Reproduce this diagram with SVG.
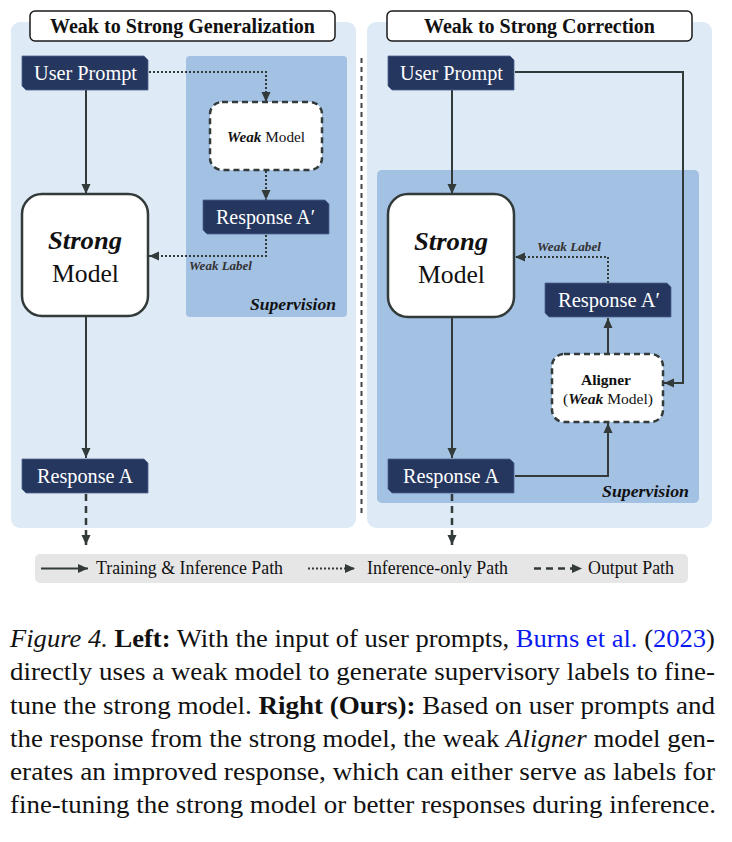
<svg xmlns="http://www.w3.org/2000/svg" width="732" height="842" viewBox="0 0 732 842" font-family="'Liberation Serif', 'Times New Roman', serif">
<style>
  text, tspan { font-family: 'Liberation Serif', 'Times New Roman', serif; }
  .panel { fill: #deeaf5; }
  .sup { fill: #a3c1e3; }
  .title { fill: #ffffff; stroke: #1a1a1a; stroke-width: 1.5; }
  .titletxt { font-size: 20px; font-weight: bold; fill: #111; text-anchor: middle; }
  .tag { fill: #26375f; stroke: #4c6391; stroke-width: 0.8; }
  .tagtxt { font-size: 20px; fill: #ffffff; text-anchor: middle; }
  .strong { fill: #ffffff; stroke: #333a3a; stroke-width: 2.5; }
  .weak { fill: #ffffff; stroke: #333a3a; stroke-width: 2.5; stroke-dasharray: 6 4; }
  .bigtxt { font-size: 26px; fill: #111; text-anchor: middle; }
  .smtxt { font-size: 15.5px; fill: #111; text-anchor: middle; }
  .bi { font-weight: bold; font-style: italic; }
  .b { font-weight: bold; }
  .i { font-style: italic; }
  .supTxt { font-size: 17.5px; font-weight: bold; font-style: italic; fill: #111; text-anchor: end; }
  .wl { font-size: 12.8px; font-weight: bold; font-style: italic; fill: #333; }
  .solid { fill: none; stroke: #333a3a; stroke-width: 2; }
  .dot { fill: none; stroke: #333a3a; stroke-width: 2; stroke-dasharray: 2 2; }
  .dash { fill: none; stroke: #333a3a; stroke-width: 2.5; stroke-dasharray: 7 5; }
  .legtxt { font-size: 17.8px; fill: #111; }
  .cap { font-size: 26px; fill: #111; }
  .link { fill: #0a1af0; }
</style>
<defs>
  <marker id="ah" viewBox="0 0 10 10" refX="10" refY="5" markerWidth="10" markerHeight="10" markerUnits="userSpaceOnUse" orient="auto">
    <path d="M0,0.5 L10,5 L0,9.5 z" fill="#333a3a"/>
  </marker>
</defs>

<g id="panels">
  <rect class="panel" x="11" y="22" width="345" height="506" rx="9"/>
  <rect class="panel" x="367" y="22" width="345" height="506" rx="9"/>
  <rect class="sup" x="186" y="56" width="161" height="261" rx="4"/>
  <rect class="sup" x="377" y="170" width="322" height="333" rx="5"/>
  <line x1="361.5" y1="58" x2="361.5" y2="513" stroke="#444" stroke-width="2" stroke-dasharray="5 4"/>
</g>

<g id="title-left">
  <rect class="title" x="30" y="11" width="305" height="30" rx="5"/>
  <text class="titletxt" x="182.5" y="33" textLength="265" lengthAdjust="spacingAndGlyphs">Weak to Strong Generalization</text>
</g>
<g id="title-right">
  <rect class="title" x="387" y="11" width="305" height="30" rx="5"/>
  <text class="titletxt" x="539.5" y="33" textLength="231" lengthAdjust="spacingAndGlyphs">Weak to Strong Correction</text>
</g>

<g id="connectors">
  <path class="solid" d="M86,90 V194" marker-end="url(#ah)"/>
  <path class="solid" d="M86,317 V458" marker-end="url(#ah)"/>
  <path class="dot" d="M149,72 H266 V102" marker-end="url(#ah)"/>
  <path class="dot" d="M266,171 V200" marker-end="url(#ah)"/>
  <path class="dot" d="M266,235 V256 H149" marker-end="url(#ah)"/>
  <path class="dash" d="M86,494 V545" marker-end="url(#ah)"/>
  <path class="solid" d="M452,90 V194" marker-end="url(#ah)"/>
  <path class="solid" d="M452,318 V458" marker-end="url(#ah)"/>
  <path class="solid" d="M515,72 H683 V383 H664" marker-end="url(#ah)"/>
  <path class="solid" d="M515,476 H608 V423" marker-end="url(#ah)"/>
  <path class="solid" d="M608,354 V318" marker-end="url(#ah)"/>
  <path class="dot" d="M608,283 V257 H515" marker-end="url(#ah)"/>
  <path class="dash" d="M452,494 V545" marker-end="url(#ah)"/>
</g>

<g id="user-prompt-left">
  <path class="tag" d="M22,56 H144 L148,60 V90 H26 L22,86 Z"/>
  <text class="tagtxt" x="85.5" y="80" textLength="103" lengthAdjust="spacingAndGlyphs">User Prompt</text>
</g>
<g id="weak-model-left">
  <rect class="weak" x="210" y="102" width="112" height="68" rx="12"/>
  <text class="smtxt" x="266" y="142" textLength="78" lengthAdjust="spacingAndGlyphs"><tspan class="bi">Weak</tspan> Model</text>
</g>
<g id="response-a-prime-left">
  <path class="tag" d="M203,200 H325 L329,204 V234 H207 L203,230 Z"/>
  <text class="tagtxt" x="265.5" y="224" textLength="99" lengthAdjust="spacingAndGlyphs">Response A′</text>
</g>
<g id="strong-model-left">
  <rect class="strong" x="22" y="194" width="126" height="122" rx="20"/>
  <text class="bigtxt bi" x="85" y="249" textLength="74" lengthAdjust="spacingAndGlyphs">Strong</text>
  <text class="bigtxt" x="85.5" y="282" textLength="67" lengthAdjust="spacingAndGlyphs">Model</text>
</g>
<g id="weak-label-left">
  <text class="wl" x="189" y="270" textLength="63" lengthAdjust="spacingAndGlyphs">Weak Label</text>
</g>
<g id="supervision-left">
  <text class="supTxt" x="336" y="310" textLength="86" lengthAdjust="spacingAndGlyphs">Supervision</text>
</g>
<g id="response-a-left">
  <path class="tag" d="M22,459 H144 L148,463 V493 H26 L22,489 Z"/>
  <text class="tagtxt" x="85" y="483" textLength="96" lengthAdjust="spacingAndGlyphs">Response A</text>
</g>

<g id="user-prompt-right">
  <path class="tag" d="M388,56 H510 L514,60 V90 H392 L388,86 Z"/>
  <text class="tagtxt" x="451.5" y="80" textLength="103" lengthAdjust="spacingAndGlyphs">User Prompt</text>
</g>
<g id="strong-model-right">
  <rect class="strong" x="388" y="194" width="126" height="123" rx="20"/>
  <text class="bigtxt bi" x="451" y="250" textLength="74" lengthAdjust="spacingAndGlyphs">Strong</text>
  <text class="bigtxt" x="451.5" y="283" textLength="67" lengthAdjust="spacingAndGlyphs">Model</text>
</g>
<g id="weak-label-right">
  <text class="wl" x="537" y="251" textLength="64" lengthAdjust="spacingAndGlyphs">Weak Label</text>
</g>
<g id="response-a-prime-right">
  <path class="tag" d="M545,283 H667 L671,287 V317 H549 L545,313 Z"/>
  <text class="tagtxt" x="609" y="307" textLength="102" lengthAdjust="spacingAndGlyphs">Response A′</text>
</g>
<g id="aligner">
  <rect class="weak" x="552" y="354" width="111" height="68" rx="12"/>
  <text class="smtxt b" x="606" y="385" textLength="50" lengthAdjust="spacingAndGlyphs">Aligner</text>
  <text class="smtxt" x="608" y="404" textLength="90" lengthAdjust="spacingAndGlyphs">(<tspan class="bi">Weak</tspan> Model)</text>
</g>
<g id="response-a-right">
  <path class="tag" d="M388,459 H510 L514,463 V493 H392 L388,489 Z"/>
  <text class="tagtxt" x="451" y="483" textLength="96" lengthAdjust="spacingAndGlyphs">Response A</text>
</g>
<g id="supervision-right">
  <text class="supTxt" x="689" y="497" textLength="87" lengthAdjust="spacingAndGlyphs">Supervision</text>
</g>

<g id="legend">
  <rect x="35" y="554" width="653" height="29" rx="5" fill="#e6e6e6"/>
  <path class="solid" d="M41,568.5 H88" marker-end="url(#ah)"/>
  <text class="legtxt" x="96" y="574" textLength="187" lengthAdjust="spacingAndGlyphs">Training &amp; Inference Path</text>
  <path class="dot" d="M308,568.5 H355" stroke-dasharray="1.5 1.5" marker-end="url(#ah)"/>
  <text class="legtxt" x="367" y="574" textLength="141" lengthAdjust="spacingAndGlyphs">Inference-only Path</text>
  <path class="dash" d="M534,568.5 H582" stroke-width="2" stroke-dasharray="8 6" marker-end="url(#ah)"/>
  <text class="legtxt" x="588" y="574" textLength="86" lengthAdjust="spacingAndGlyphs">Output Path</text>
</g>

<g id="caption">
  <text class="cap" x="10" y="647" textLength="705" lengthAdjust="spacingAndGlyphs"><tspan class="i">Figure 4.</tspan> <tspan class="b">Left:</tspan> With the input of user prompts, <tspan class="link">Burns et al.</tspan> (<tspan class="link">2023</tspan>)</text>
  <text class="cap" x="10" y="680" textLength="705" lengthAdjust="spacingAndGlyphs">directly uses a weak model to generate supervisory labels to fine-</text>
  <text class="cap" x="10" y="713.5" textLength="705" lengthAdjust="spacingAndGlyphs">tune the strong model. <tspan class="b">Right (Ours):</tspan> Based on user prompts and</text>
  <text class="cap" x="10" y="746.5" textLength="705" lengthAdjust="spacingAndGlyphs">the response from the strong model, the weak <tspan class="i">Aligner</tspan> model gen-</text>
  <text class="cap" x="10" y="780" textLength="705" lengthAdjust="spacingAndGlyphs">erates an improved response, which can either serve as labels for</text>
  <text class="cap" x="10" y="813" textLength="706" lengthAdjust="spacingAndGlyphs">fine-tuning the strong model or better responses during inference.</text>
</g>
</svg>
